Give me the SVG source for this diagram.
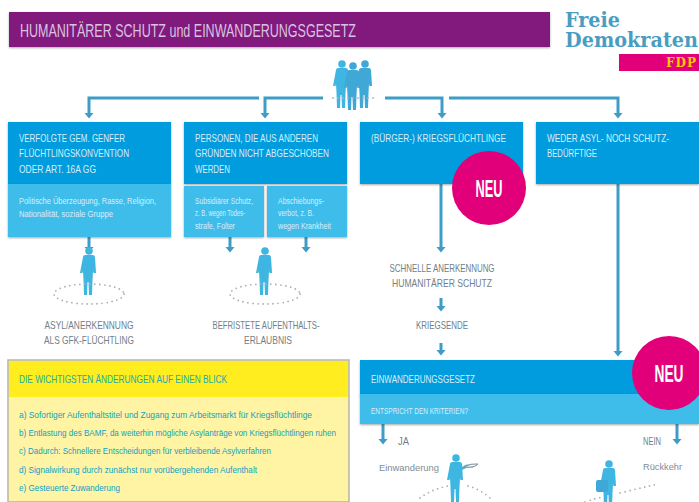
<svg xmlns="http://www.w3.org/2000/svg" width="699" height="502" viewBox="0 0 699 502">
<style>
text{font-family:"Liberation Sans",Arial,sans-serif}
.h{font-size:11px;fill:#d8eefa}
.s{font-size:8.500px;fill:#d8eefa}
.g{font-size:11px;fill:#6f8088}
.t{font-size:9.500px;fill:#7d8d96}
.y{font-size:9px;fill:#109fc6}
.n{font-size:23px;fill:#fff;font-weight:bold}
.c{fill:none;stroke:#3d9dc6;stroke-width:3}
.a{fill:#3d9dc6}
.d{fill:#009cdd}
.l{fill:#3fbdea}
.p{fill:#3fb6e2}
.o{fill:none;stroke:#a9b2b6;stroke-width:1.800;stroke-dasharray:0 5;stroke-linecap:round}
.sh{filter:drop-shadow(0 1px 1px rgba(60,60,60,.45))}
</style>
<defs>
<g id="person"><circle cx="0" cy="-26" r="3.800"/><path d="M-6-20q0-2 2.500-2h7q2.500 0 2.500 2l1 16h-2.500l-.5-2-.5 9-.5 15h-3l-.5-13h-1l-.5 13h-3l-.5-15-.5-9-.5 2h-2.500z"/></g>
<path id="ah" d="M-4.500 0h9l-4.500 5.500z"/>
</defs>

<g id="title"><rect class="sh" x="9" y="12" width="541" height="35" fill="#811a7c"/><text x="20" y="37" font-size="19" fill="#d9c3e0" textLength="336" lengthAdjust="spacingAndGlyphs">HUMANITÄRER SCHUTZ und EINWANDERUNGSGESETZ</text></g>

<g id="logo"><text x="565" y="27" font-size="20" font-weight="bold" fill="#4a9cc0" style="font-family:'DejaVu Serif',serif" textLength="55" lengthAdjust="spacingAndGlyphs">Freie</text><text x="565" y="47" font-size="20" font-weight="bold" fill="#4a9cc0" style="font-family:'DejaVu Serif',serif" textLength="133" lengthAdjust="spacingAndGlyphs">Demokraten</text><rect x="619" y="54" width="80" height="17" fill="#e2007a"/><text x="666" y="67" font-size="12" font-weight="bold" fill="#ffcc00" style="font-family:'DejaVu Serif',serif" textLength="30" lengthAdjust="spacing">FDP</text></g>

<g id="connectors">
<path class="c" d="M259 98H89V115M323 98H265V115M385 98H442V115M449 98H618V115"/>
<g class="a"><use href="#ah" x="89" y="113"/><use href="#ah" x="265" y="113"/><use href="#ah" x="442" y="113"/><use href="#ah" x="618" y="113"/></g>
<path class="c" d="M89 237V248M230 237V248M306 237V248M441 184V248M618 184V353M441 298V308M441 343V352M383 424V439M677 424V439"/>
<g class="a"><use href="#ah" x="89" y="247"/><use href="#ah" x="230" y="247"/><use href="#ah" x="306" y="247"/><use href="#ah" x="441" y="247"/><use href="#ah" x="441" y="306"/><use href="#ah" x="441" y="350"/><use href="#ah" x="618" y="351"/><use href="#ah" x="383" y="439"/><use href="#ah" x="677" y="439"/></g>
</g>

<g id="group-people"><use href="#person" x="342" y="90" fill="#3fb6e2"/><use href="#person" x="353" y="92" fill="#3fa8d6"/><use href="#person" x="365" y="90" fill="#3fa8d6"/><path d="M333 98h42" class="o"/></g>

<g id="node-asyl"><rect class="d sh" x="8" y="122" width="163" height="62"/><rect class="l sh" x="8" y="184" width="163" height="53"/>
<text class="h" x="19" y="142" textLength="106" lengthAdjust="spacingAndGlyphs">VERFOLGTE GEM. GENFER</text><text class="h" x="19" y="157" textLength="110" lengthAdjust="spacingAndGlyphs">FLÜCHTLINGSKONVENTION</text><text class="h" x="19" y="173" textLength="77" lengthAdjust="spacingAndGlyphs">ODER ART. 16A GG</text>
<text class="s" x="19" y="204" textLength="137" lengthAdjust="spacingAndGlyphs">Politische Überzeugung, Rasse, Religion,</text><text class="s" x="19" y="217" textLength="94" lengthAdjust="spacingAndGlyphs">Nationalität, soziale Gruppe</text></g>

<g id="node-personen"><rect class="d sh" x="184" y="122" width="163" height="62"/><rect class="l sh" x="184" y="186" width="80" height="51"/><rect class="l sh" x="267" y="186" width="80" height="51"/>
<text class="h" x="195" y="142" textLength="123" lengthAdjust="spacingAndGlyphs">PERSONEN, DIE AUS ANDEREN</text><text class="h" x="195" y="157" textLength="134" lengthAdjust="spacingAndGlyphs">GRÜNDEN NICHT ABGESCHOBEN</text><text class="h" x="195" y="173" textLength="35" lengthAdjust="spacingAndGlyphs">WERDEN</text>
<text class="s" x="195" y="204" textLength="58" lengthAdjust="spacingAndGlyphs">Subsidiärer Schutz,</text><text class="s" x="195" y="216" textLength="50" lengthAdjust="spacingAndGlyphs">z. B. wegen Todes-</text><text class="s" x="195" y="229" textLength="40" lengthAdjust="spacingAndGlyphs">strafe, Folter</text>
<text class="s" x="278" y="204" textLength="46" lengthAdjust="spacingAndGlyphs">Abschiebungs-</text><text class="s" x="278" y="216" textLength="36" lengthAdjust="spacingAndGlyphs">verbot, z. B.</text><text class="s" x="278" y="229" textLength="53" lengthAdjust="spacingAndGlyphs">wegen Krankheit</text></g>

<g id="node-buerger"><rect class="d sh" x="360" y="122" width="163" height="62"/><text class="h" x="371" y="142" textLength="135" lengthAdjust="spacingAndGlyphs">(BÜRGER-) KRIEGSFLÜCHTLINGE</text></g>

<g id="node-weder"><rect class="d sh" x="536" y="122" width="163" height="62"/><text class="h" x="547" y="142" textLength="122" lengthAdjust="spacingAndGlyphs">WEDER ASYL- NOCH SCHUTZ-</text><text class="h" x="547" y="157" textLength="50" lengthAdjust="spacingAndGlyphs">BEDÜRFTIGE</text></g>

<g id="badge-neu-1"><circle cx="489" cy="188" r="37" fill="#e2007a"/><text class="n" x="489" y="197" text-anchor="middle" textLength="27" lengthAdjust="spacingAndGlyphs">NEU</text></g>

<g id="result-asyl"><use href="#person" class="p" x="89" y="277"/><ellipse class="o" cx="89" cy="294" rx="35" ry="10"/><text class="g" x="89" y="329" text-anchor="middle" textLength="89" lengthAdjust="spacingAndGlyphs">ASYL/ANERKENNUNG</text><text class="g" x="89" y="344" text-anchor="middle" textLength="90" lengthAdjust="spacingAndGlyphs">ALS GFK-FLÜCHTLING</text></g>

<g id="result-befristet"><use href="#person" class="p" x="265" y="277"/><ellipse class="o" cx="265" cy="294" rx="35" ry="10"/><text class="g" x="266" y="329" text-anchor="middle" textLength="107" lengthAdjust="spacingAndGlyphs">BEFRISTETE AUFENTHALTS-</text><text class="g" x="268" y="344" text-anchor="middle" textLength="48" lengthAdjust="spacingAndGlyphs">ERLAUBNIS</text></g>

<g id="label-schnelle"><text class="g" x="442" y="272" text-anchor="middle" textLength="105" lengthAdjust="spacingAndGlyphs">SCHNELLE ANERKENNUNG</text><text class="g" x="442" y="287" text-anchor="middle" textLength="100" lengthAdjust="spacingAndGlyphs">HUMANITÄRER SCHUTZ</text></g>
<g id="label-kriegsende"><text class="g" x="442" y="329" text-anchor="middle" textLength="52" lengthAdjust="spacingAndGlyphs">KRIEGSENDE</text></g>

<g id="panel-aenderungen"><rect x="8" y="360" width="341" height="142" fill="#fff4a3" stroke="#b5b5a5" stroke-width="1.500"/><rect x="9" y="361" width="339" height="36" fill="#ffed1f"/>
<text x="19" y="383" font-size="11" fill="#22a8b4" textLength="208" lengthAdjust="spacingAndGlyphs">DIE WICHTIGSTEN ÄNDERUNGEN AUF EINEN BLICK</text>
<text class="y" x="19" y="418" textLength="293" lengthAdjust="spacingAndGlyphs">a) Sofortiger Aufenthaltstitel und Zugang zum Arbeitsmarkt für Kriegsflüchtlinge</text>
<text class="y" x="19" y="436" textLength="317" lengthAdjust="spacingAndGlyphs">b) Entlastung des BAMF, da weiterhin mögliche Asylanträge von Kriegsflüchtlingen ruhen</text>
<text class="y" x="19" y="454" textLength="252" lengthAdjust="spacingAndGlyphs">c) Dadurch: Schnellere Entscheidungen für verbleibende Asylverfahren</text>
<text class="y" x="19" y="473" textLength="238" lengthAdjust="spacingAndGlyphs">d) Signalwirkung durch zunächst nur vorübergehenden Aufenthalt</text>
<text class="y" x="19" y="491" textLength="101" lengthAdjust="spacingAndGlyphs">e) Gesteuerte Zuwanderung</text></g>

<g id="node-einwanderungsgesetz"><rect class="d sh" x="360" y="360" width="339" height="35"/><rect class="l sh" x="360" y="394" width="339" height="30"/><text class="h" x="371" y="383" textLength="104" lengthAdjust="spacingAndGlyphs">EINWANDERUNGSGESETZ</text><text class="s" x="371" y="414" textLength="97" lengthAdjust="spacingAndGlyphs">ENTSPRICHT DEN KRITERIEN?</text></g>

<g id="badge-neu-2"><circle cx="669" cy="373" r="37" fill="#e2007a"/><text class="n" x="669" y="382" text-anchor="middle" textLength="29" lengthAdjust="spacingAndGlyphs">NEU</text></g>

<g id="branch-ja"><text class="g" x="398" y="445" textLength="11" lengthAdjust="spacingAndGlyphs">JA</text><text class="t" x="379" y="471" textLength="60" lengthAdjust="spacingAndGlyphs">Einwanderung</text><use href="#person" class="p" x="456" y="484"/><path d="M459 470l8-4h6" stroke="#3fb6e2" stroke-width="3" fill="none"/><path d="M464 467q7-4 14-3-3 4-14 3z" fill="#fff" stroke="#7d8d96"/><path class="o" d="M420 498q12-9 28-12M468 486q12 3 22 12"/></g>

<g id="branch-nein"><text class="g" x="643" y="445" textLength="18" lengthAdjust="spacingAndGlyphs">NEIN</text><text class="t" x="643" y="470" textLength="39" lengthAdjust="spacingAndGlyphs">Rückkehr</text><use href="#person" class="p" x="609" y="490"/><rect x="596" y="480" width="12" height="12" rx="2" fill="#3fa8d6"/><path class="o" d="M585 502q12-4 18-5M620 493q20-5 38-9"/></g>
</svg>
